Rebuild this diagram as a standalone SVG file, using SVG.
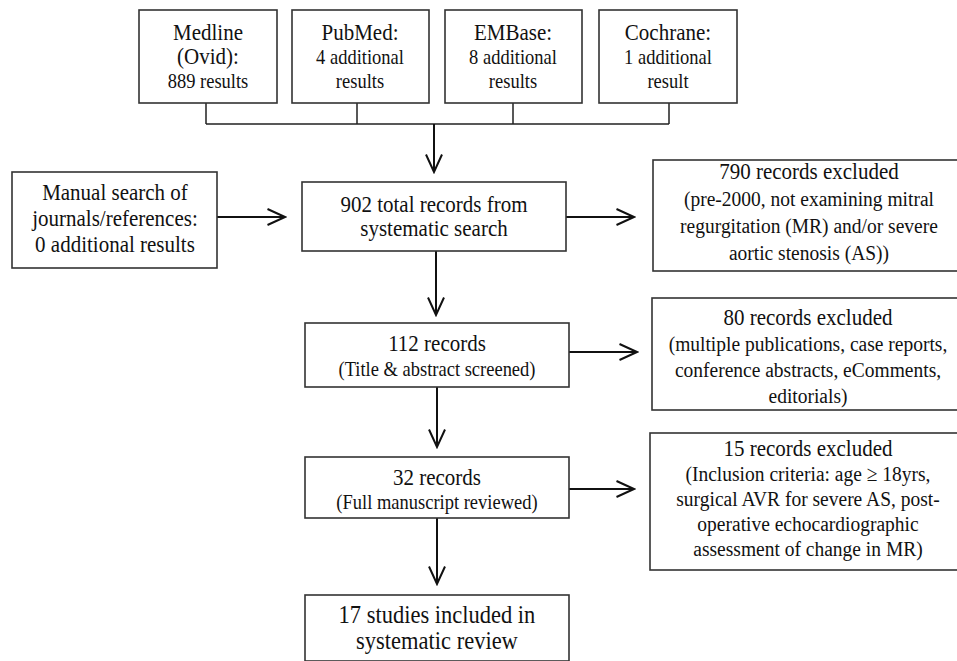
<svg xmlns="http://www.w3.org/2000/svg" width="957" height="661" viewBox="0 0 957 661">
<defs>
<marker id="arr" viewBox="0 0 20 18" refX="18.5" refY="9" markerWidth="20" markerHeight="18" markerUnits="userSpaceOnUse" orient="auto">
<path d="M1,1 L18.5,9 L1,17" fill="none" stroke="#111" stroke-width="2"/>
</marker>
<style>
.box{fill:#fff;stroke:#333;stroke-width:1.6}
.t{font-family:"Liberation Serif","Times New Roman",serif;font-size:21px;fill:#111;text-anchor:middle}
.s{font-size:19.5px}
.m{font-size:18.5px}
.l{font-size:22.5px}
.ln{fill:none;stroke:#111;stroke-width:2}
.bus{fill:none;stroke:#222;stroke-width:1.5}
</style>
</defs>
<rect width="957" height="661" fill="#fff"/>
<g id="connectors">
<path class="bus" d="M206,103 V124 M357,103 V124 M513,103 V124 M669,103 V124 M206,124 H669"/>
<path class="ln" d="M434,124 V172" marker-end="url(#arr)"/>
<path class="ln" d="M217,217 H285" marker-end="url(#arr)"/>
<path class="ln" d="M566,217 H634" marker-end="url(#arr)"/>
<path class="ln" d="M436,251 V315" marker-end="url(#arr)"/>
<path class="ln" d="M569,352 H637" marker-end="url(#arr)"/>
<path class="ln" d="M437,387 V447" marker-end="url(#arr)"/>
<path class="ln" d="M569,489 H634" marker-end="url(#arr)"/>
<path class="ln" d="M437,518 V584" marker-end="url(#arr)"/>
</g>
<g id="medline">
<rect class="box" x="139" y="10" width="138" height="93"/>
<text class="t" x="208" transform="translate(0,40) scale(1,1.1)">Medline</text>
<text class="t" x="208" transform="translate(0,64) scale(1,1.1)">(Ovid):</text>
<text class="t m" x="208" transform="translate(0,88) scale(1,1.1)">889 results</text>
</g>
<g id="pubmed">
<rect class="box" x="292" y="10" width="137" height="93"/>
<text class="t" x="360" transform="translate(0,40) scale(1,1.1)">PubMed:</text>
<text class="t m" x="360" transform="translate(0,64) scale(1,1.1)">4 additional</text>
<text class="t m" x="360" transform="translate(0,88) scale(1,1.1)">results</text>
</g>
<g id="embase">
<rect class="box" x="445" y="10" width="137" height="93"/>
<text class="t" x="513" transform="translate(0,40) scale(1,1.1)">EMBase:</text>
<text class="t m" x="513" transform="translate(0,64) scale(1,1.1)">8 additional</text>
<text class="t m" x="513" transform="translate(0,88) scale(1,1.1)">results</text>
</g>
<g id="cochrane">
<rect class="box" x="599" y="10" width="138" height="93"/>
<text class="t" x="668" transform="translate(0,40) scale(1,1.1)">Cochrane:</text>
<text class="t m" x="668" transform="translate(0,64) scale(1,1.1)">1 additional</text>
<text class="t m" x="668" transform="translate(0,88) scale(1,1.1)">result</text>
</g>
<g id="manual">
<rect class="box" x="12" y="172" width="205" height="96"/>
<text class="t" x="115" transform="translate(0,200) scale(1,1.1)">Manual search of</text>
<text class="t" x="115" transform="translate(0,226) scale(1,1.1)">journals/references:</text>
<text class="t" x="115" transform="translate(0,252) scale(1,1.1)">0 additional results</text>
</g>
<g id="total">
<rect class="box" x="302" y="182" width="264" height="69"/>
<text class="t" x="434" transform="translate(0,212) scale(1,1.1)">902 total records from</text>
<text class="t" x="434" transform="translate(0,236) scale(1,1.1)">systematic search</text>
</g>
<g id="excl790">
<rect class="box" x="653" y="160" width="312" height="111"/>
<text class="t" x="809" transform="translate(0,179) scale(1,1.12)">790 records excluded</text>
<text class="t s" x="809" transform="translate(0,206) scale(1,1.12)">(pre-2000, not examining mitral</text>
<text class="t s" x="809" transform="translate(0,233) scale(1,1.12)">regurgitation (MR) and/or severe</text>
<text class="t s" x="809" transform="translate(0,260) scale(1,1.12)">aortic stenosis (AS))</text>
</g>
<g id="r112">
<rect class="box" x="305" y="323" width="264" height="64"/>
<text class="t" x="437" transform="translate(0,351) scale(1,1.1)">112 records</text>
<text class="t m" x="437" transform="translate(0,376) scale(1,1.1)">(Title &amp; abstract screened)</text>
</g>
<g id="excl80">
<rect class="box" x="652" y="298" width="313" height="112"/>
<text class="t" x="808" transform="translate(0,325) scale(1,1.12)">80 records excluded</text>
<text class="t s" x="808" transform="translate(0,351) scale(1,1.12)">(multiple publications, case reports,</text>
<text class="t s" x="808" transform="translate(0,377) scale(1,1.12)">conference abstracts, eComments,</text>
<text class="t s" x="808" transform="translate(0,403) scale(1,1.12)">editorials)</text>
</g>
<g id="r32">
<rect class="box" x="305" y="457" width="264" height="61"/>
<text class="t" x="437" transform="translate(0,485) scale(1,1.1)">32 records</text>
<text class="t m" x="437" transform="translate(0,509) scale(1,1.1)">(Full manuscript reviewed)</text>
</g>
<g id="excl15">
<rect class="box" x="650" y="433" width="315" height="137"/>
<text class="t" x="808" transform="translate(0,456) scale(1,1.12)">15 records excluded</text>
<text class="t s" x="808" transform="translate(0,481) scale(1,1.12)">(Inclusion criteria: age ≥ 18yrs,</text>
<text class="t s" x="808" transform="translate(0,506) scale(1,1.12)">surgical AVR for severe AS, post-</text>
<text class="t s" x="808" transform="translate(0,531) scale(1,1.12)">operative echocardiographic</text>
<text class="t s" x="808" transform="translate(0,556) scale(1,1.12)">assessment of change in MR)</text>
</g>
<g id="included">
<rect class="box" x="305" y="595" width="264" height="66"/>
<text class="t l" x="437" transform="translate(0,623) scale(1,1.1)">17 studies included in</text>
<text class="t l" x="437" transform="translate(0,649) scale(1,1.1)">systematic review</text>
</g>
</svg>
